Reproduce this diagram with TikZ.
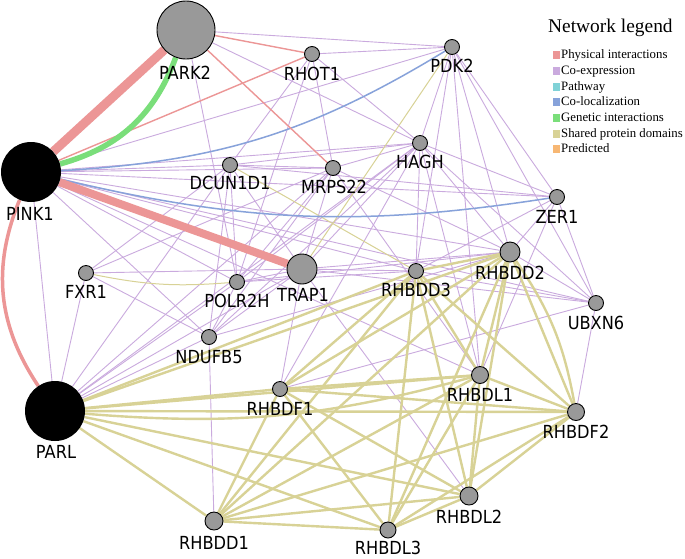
\documentclass[tikz,border=0pt]{standalone}
\usepackage{fontspec}
\setmainfont{DejaVu Sans}[FakeStretch=0.9]
\newfontfamily\legfont{Liberation Serif}
\pgfdeclarelayer{bg}
\pgfdeclarelayer{edges}
\pgfsetlayers{bg,edges,main}
\definecolor{phys}{RGB}{236,150,150}
\definecolor{coexp}{RGB}{202,170,222}
\definecolor{pathw}{RGB}{128,210,215}
\definecolor{coloc}{RGB}{135,162,218}
\definecolor{genet}{RGB}{122,222,122}
\definecolor{shared}{RGB}{216,210,150}
\definecolor{pred}{RGB}{247,183,115}
\definecolor{nodegray}{RGB}{153,153,153}
\begin{document}
\begin{tikzpicture}[x=1pt,y=-1pt,
  gene/.style={circle,draw=black,line width=0.9pt,fill=nodegray,inner sep=0pt,minimum size=#1},
  gene/.default=15,
  hub/.style={circle,fill=black,inner sep=0pt,minimum size=#1},
  hub/.default=60,
  lbl/.style={font=\fontsize{18}{18}\selectfont,inner sep=0pt,text height=13pt,text depth=0pt},
  legt/.style={font=\legfont\fontsize{19.4}{19.4}\selectfont,inner sep=0pt,anchor=west},
  legi/.style={font=\legfont\fontsize{12.8}{12.8}\selectfont,inner sep=0pt,anchor=west,text height=8.5pt,text depth=2pt},
  ce/.style={draw=coexp,line width=0.9pt},
  sd/.style={draw=shared,line width=2.4pt},
  sdt/.style={draw=shared,line width=1pt},
  col/.style={draw=coloc,line width=1.5pt},
  pht/.style={draw=phys,line width=1.4pt},
]
\useasboundingbox (0,0) rectangle (685,558);
\begin{pgfonlayer}{bg}
\fill[white] (0,0) rectangle (685,558);
\end{pgfonlayer}

% nodes
\node[gene=58] (PARK2) at (186,30) {};
\node[gene] (RHOT1) at (312,54) {};
\node[gene] (PDK2) at (452,47) {};
\node[hub] (PINK1) at (31,172) {};
\node[gene] (DCUN1D1) at (230,165) {};
\node[gene] (MRPS22) at (333,168) {};
\node[gene] (HAGH) at (420,143) {};
\node[gene] (ZER1) at (557,197) {};
\node[gene] (FXR1) at (86,273) {};
\node[gene] (POLR2H) at (237,282) {};
\node[gene=30] (TRAP1) at (302,269) {};
\node[gene] (RHBDD3) at (416,271) {};
\node[gene=20] (RHBDD2) at (510,252) {};
\node[gene] (UBXN6) at (596,303) {};
\node[gene] (NDUFB5) at (209,337) {};
\node[hub] (PARL) at (55,411) {};
\node[gene] (RHBDF1) at (280,389) {};
\node[gene=17] (RHBDL1) at (480,375) {};
\node[gene=17] (RHBDF2) at (576,412) {};
\node[gene=18] (RHBDL2) at (469,496) {};
\node[gene=18] (RHBDD1) at (214,521) {};
\node[gene=16] (RHBDL3) at (388,530) {};

% labels
\node[lbl] (lPARK2) at (185,73) {PARK2};
\node[lbl] (lRHOT1) at (312,74) {RHOT1};
\node[lbl] (lPDK2) at (452,66) {PDK2};
\node[lbl] (lPINK1) at (30,214) {PINK1};
\node[lbl] (lDCUN1D1) at (230,183) {DCUN1D1};
\node[lbl] (lMRPS22) at (334,187) {MRPS22};
\node[lbl] (lHAGH) at (420,162) {HAGH};
\node[lbl] (lZER1) at (557,217) {ZER1};
\node[lbl] (lFXR1) at (86,292) {FXR1};
\node[lbl] (lPOLR2H) at (237,301) {POLR2H};
\node[lbl] (lTRAP1) at (303,295) {TRAP1};
\node[lbl] (lRHBDD3) at (416,290) {RHBDD3};
\node[lbl] (lRHBDD2) at (510,273) {RHBDD2};
\node[lbl] (lUBXN6) at (596,323) {UBXN6};
\node[lbl] (lNDUFB5) at (209,357) {NDUFB5};
\node[lbl] (lPARL) at (56,452) {PARL};
\node[lbl] (lRHBDF1) at (280,409) {RHBDF1};
\node[lbl] (lRHBDL1) at (480,395) {RHBDL1};
\node[lbl] (lRHBDF2) at (576,432) {RHBDF2};
\node[lbl] (lRHBDL2) at (469,517) {RHBDL2};
\node[lbl] (lRHBDD1) at (214,543) {RHBDD1};
\node[lbl] (lRHBDL3) at (388,548) {RHBDL3};

% legend
\node[legt] (legtitle) at (548,28) {Network legend};
\foreach \c/\t/\y/\n in {phys/Physical interactions/55/l1,coexp/Co-expression/71/l2,pathw/Pathway/87/l3,coloc/Co-localization/102/l4,genet/Genetic interactions/118/l5,shared/Shared protein domains/134/l6,pred/Predicted/149/l7}{
  \node[fill=\c,inner sep=0pt,minimum width=7.5pt,minimum height=8.5pt] (sq\n) at (556.5,\y) {};
  \node[legi] (tx\n) at (561,\y) {\t};
}

\begin{pgfonlayer}{edges}
% co-expression
\foreach \a/\b in {PINK1/PDK2, PINK1/HAGH, PINK1/DCUN1D1, PINK1/MRPS22, PINK1/ZER1, PINK1/RHBDD2, PINK1/RHBDD3, PINK1/UBXN6, PINK1/POLR2H, PINK1/NDUFB5, PINK1/PARL, PINK1/RHBDL1,
PARK2/PDK2, PARK2/HAGH, PARK2/POLR2H,
RHOT1/PDK2, RHOT1/DCUN1D1, RHOT1/MRPS22, RHOT1/POLR2H, RHOT1/HAGH,
DCUN1D1/HAGH, DCUN1D1/MRPS22, DCUN1D1/POLR2H, DCUN1D1/NDUFB5, DCUN1D1/FXR1, DCUN1D1/PARL, DCUN1D1/TRAP1, DCUN1D1/ZER1,
MRPS22/HAGH, MRPS22/POLR2H, MRPS22/NDUFB5, MRPS22/FXR1, MRPS22/PARL, MRPS22/TRAP1, MRPS22/RHBDL1, MRPS22/RHBDD2,
HAGH/PDK2, HAGH/ZER1, HAGH/RHBDD2, HAGH/RHBDD3, HAGH/UBXN6, HAGH/RHBDL1, HAGH/POLR2H, HAGH/NDUFB5, HAGH/TRAP1, HAGH/PARL, HAGH/RHBDF1,
PDK2/ZER1, PDK2/RHBDD2, PDK2/UBXN6, PDK2/RHBDL1, PDK2/RHBDD3,
ZER1/RHBDD2, ZER1/UBXN6, ZER1/RHBDL1, ZER1/RHBDD3,
RHBDD2/UBXN6, RHBDD2/TRAP1, RHBDD2/POLR2H, RHBDD2/NDUFB5, RHBDD2/RHBDF2,
UBXN6/RHBDF2, UBXN6/RHBDD3, UBXN6/RHBDF1, UBXN6/TRAP1,
FXR1/TRAP1, FXR1/NDUFB5, FXR1/PARL,
POLR2H/NDUFB5, POLR2H/TRAP1, POLR2H/PARL, POLR2H/RHBDD3,
NDUFB5/PARL, NDUFB5/RHBDD1, NDUFB5/TRAP1,
TRAP1/PARL, TRAP1/RHBDF1, TRAP1/RHBDL2, TRAP1/RHBDD3,
RHBDL1/RHBDF1, RHBDL1/RHBDL2, RHBDL1/RHBDL3,
RHBDD3/RHBDL3}
  \draw[ce] (\a) -- (\b);
% shared protein domains, thin
\draw[sdt] (FXR1) to[bend right=8] (POLR2H);
\draw[sdt] (DCUN1D1) -- (RHBDD3);
\draw[sdt] (TRAP1) -- (PDK2);
% shared protein domains, thick
\foreach \a/\b in {PARL/RHBDF1, PARL/RHBDL1, PARL/RHBDF2, PARL/RHBDL2, PARL/RHBDD1, PARL/RHBDL3, PARL/RHBDD2, PARL/RHBDD3,
RHBDF1/RHBDL1, RHBDF1/RHBDF2, RHBDF1/RHBDL2, RHBDF1/RHBDD1, RHBDF1/RHBDL3, RHBDF1/RHBDD2, RHBDF1/RHBDD3,
RHBDL1/RHBDF2, RHBDL1/RHBDL2, RHBDL1/RHBDD1, RHBDL1/RHBDL3, RHBDL1/RHBDD2, RHBDL1/RHBDD3,
RHBDF2/RHBDL2, RHBDF2/RHBDD1, RHBDF2/RHBDL3, RHBDF2/RHBDD2, RHBDF2/RHBDD3,
RHBDL2/RHBDD1, RHBDL2/RHBDL3, RHBDL2/RHBDD2, RHBDL2/RHBDD3,
RHBDD1/RHBDL3, RHBDD1/RHBDD2, RHBDD1/RHBDD3,
RHBDL3/RHBDD2, RHBDL3/RHBDD3,
RHBDD2/RHBDD3}
  \draw[sd] (\a) -- (\b);
\draw[sd] (PARL) to[bend right=10] (RHBDL1);
\draw[sd] (RHBDD2) to[bend left=12] (RHBDF2);
% co-localization
\draw[col] (PINK1) to[bend right=14] (PDK2);
\draw[col] (PINK1) to[bend right=11] (ZER1);
% physical, thin
\draw[pht] (PINK1) -- (RHOT1);
\draw[pht] (PARK2) -- (RHOT1);
\draw[pht] (PARK2) -- (MRPS22);
\draw[draw=phys,line width=3.5pt] (PINK1) to[bend right=28] (PARL);
% genetic
\draw[draw=genet,line width=5.5pt] (PINK1) to[bend right=27] (PARK2);
% physical, thick
\draw[draw=phys,line width=9pt] (PINK1) -- (PARK2);
\draw[draw=phys,line width=8pt] (PINK1) -- (TRAP1);
\end{pgfonlayer}
\end{tikzpicture}
\end{document}
